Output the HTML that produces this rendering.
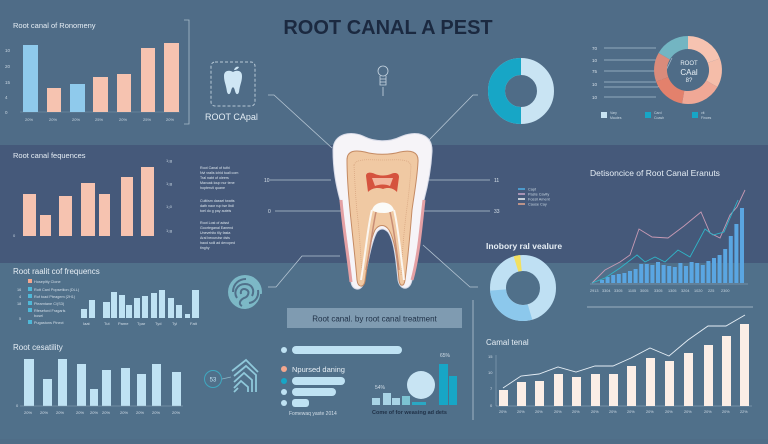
<!DOCTYPE html>
<html><head><meta charset="utf-8"><style>
html,body{margin:0;padding:0;}
body{width:768px;height:439px;overflow:hidden;background:#4f6d87;font-family:"Liberation Sans",sans-serif;}
svg text{font-family:"Liberation Sans",sans-serif;}
</style></head><body>
<svg width="768" height="439" viewBox="0 0 768 439" xmlns="http://www.w3.org/2000/svg">
<rect width="768" height="439" fill="#506e88"/>
<rect y="0" width="768" height="145" fill="#4f6c87"/>
<rect y="145" width="768" height="118" fill="#45597a"/>
<rect y="263" width="768" height="176" fill="#50708a"/>

<text x="388" y="34" text-anchor="middle" font-size="20" font-weight="bold" fill="#1b2940">ROOT CANAL A PEST</text>

<text x="13" y="28" font-size="7.5" fill="#e6eef5">Root canal of Ronomeny</text>
<path d="M184,20 H189 V124 H184" fill="none" stroke="#a9bccb" stroke-width="0.8"/>
<g font-size="4.5" fill="#c9d7e2">
<text x="5" y="52">10</text><text x="5" y="68">20</text><text x="5" y="84">15</text><text x="5" y="99">4</text><text x="5" y="114">0</text>
</g>
<line x1="20" y1="112" x2="180" y2="112" stroke="#7f98ad" stroke-width="0.5"/>
<rect x="23" y="45" width="15" height="67" fill="#8fcaec"/>
<rect x="47" y="88" width="14" height="24" fill="#f6c3b0"/>
<rect x="70" y="84" width="15" height="28" fill="#8fcaec"/>
<rect x="93" y="77" width="15" height="35" fill="#f6c3b0"/>
<rect x="117" y="74" width="14" height="38" fill="#f6c3b0"/>
<rect x="141" y="48" width="14" height="64" fill="#f6c3b0"/>
<rect x="164" y="43" width="15" height="69" fill="#f6c3b0"/>
<g font-size="4" fill="#c9d7e2">
<text x="25" y="121">20%</text><text x="49" y="121">20%</text><text x="72" y="121">20%</text><text x="95" y="121">25%</text><text x="119" y="121">20%</text><text x="143" y="121">25%</text><text x="166" y="121">20%</text>
</g>

<rect x="211" y="62" width="44" height="44" rx="4" fill="none" stroke="#b7c8d6" stroke-width="1" stroke-dasharray="3,2"/>
<path d="M224,76 C224,70 230,70 233,72 C236,70 242,70 242,76 C242,82 240,84 239,92 C238,95 236,95 235,91 C234,86 232,86 231,91 C230,95 228,95 227,92 C226,84 224,82 224,76 Z" fill="#cfe6f4"/>
<path d="M234,70 C235,67 237,66 239,67 C238,69 236,70 234,70Z" fill="#cfe6f4"/>
<text x="205" y="120" font-size="9" fill="#e3edf4">ROOT CApal</text>

<g stroke="#c8d6e2" stroke-width="0.8" fill="none">
<circle cx="383" cy="71" r="5"/>
<path d="M380,76 V85 H386 V76"/><line x1="380" y1="79" x2="386" y2="79"/><line x1="380" y1="82" x2="386" y2="82"/>
<line x1="383" y1="87" x2="383" y2="96"/>
</g>

<g stroke="#b4c4d2" stroke-width="0.8" fill="none">
<polyline points="268,95 274,95 332,148"/>
<polyline points="429,140 473,95 478,95"/>
<line x1="270" y1="180" x2="331" y2="180"/>
<line x1="275" y1="211" x2="342" y2="211"/>
<line x1="428" y1="180" x2="490" y2="180"/>
<line x1="420" y1="211" x2="490" y2="211"/>
<polyline points="268,287 276,287 302,256 340,256"/>
<polyline points="423,245 470,287 478,287"/>
<line x1="473" y1="300" x2="473" y2="420"/>
<line x1="587" y1="307" x2="753" y2="307"/>
</g>
<g font-size="5" fill="#d6e0e9">
<text x="264" y="182">10</text><text x="268" y="213">0</text><text x="494" y="182">11</text><text x="494" y="213">33</text>
</g>

<circle cx="521" cy="91" r="24.5" fill="none" stroke="#c9e4f3" stroke-width="17"/>
<path d="M521,66.5 A24.5,24.5 0 0 0 521,115.5" fill="none" stroke="#17a6c6" stroke-width="17"/>

<g stroke="#a9bfd0" stroke-width="0.7">
<line x1="604" y1="48" x2="656" y2="48"/><line x1="604" y1="60" x2="656" y2="60"/><line x1="604" y1="71" x2="656" y2="71"/><line x1="604" y1="82" x2="656" y2="82"/><line x1="604" y1="97" x2="656" y2="97"/>
<polyline points="604,87 658,87 672,58" fill="none"/>
</g>
<g font-size="4.5" fill="#d6e0e9"><text x="592" y="50">70</text><text x="592" y="62">10</text><text x="592" y="73">75</text><text x="592" y="86">10</text><text x="592" y="99">10</text></g>
<g fill="none" stroke-width="13">
<path d="M688,42.5 A27.5,27.5 0 0 0 664.2,56.25" stroke="#73b5c2"/>
<path d="M664.2,56.25 A27.5,27.5 0 0 0 662.2,79.4" stroke="#da8b7b"/>
<path d="M662.2,79.4 A27.5,27.5 0 0 0 683.2,97.1" stroke="#e3816c"/>
<path d="M683.2,97.1 A27.5,27.5 0 0 0 711.8,83.75" stroke="#f0a896"/>
<path d="M711.8,83.75 A27.5,27.5 0 0 0 713.8,60.6" stroke="#f5bda9"/>
<path d="M713.8,60.6 A27.5,27.5 0 0 0 688,42.5" stroke="#f6c3b1"/>
</g>
<g font-size="6" fill="#e8f0f5" text-anchor="middle"><text x="689" y="65">ROOT</text><text x="689" y="75" font-size="8">CAal</text><text x="689" y="82">8?</text></g>
<rect x="601" y="112" width="6" height="6" fill="#c9e4f3"/><rect x="645" y="112" width="6" height="6" fill="#17a6c6"/><rect x="692" y="112" width="6" height="6" fill="#17a6c6"/>
<g font-size="3.5" fill="#c9d7e2"><text x="610" y="114">Vary</text><text x="610" y="119">Mautes</text><text x="654" y="114">Card</text><text x="654" y="119">Coash</text><text x="701" y="114">vit</text><text x="701" y="119">Finces</text></g>

<text x="13" y="158" font-size="7.5" fill="#e6eef5">Root canal fequences</text>
<rect x="23" y="194" width="13" height="42" fill="#f6c3b0"/>
<rect x="40" y="215" width="11" height="21" fill="#f6c3b0"/>
<rect x="59" y="196" width="13" height="40" fill="#f6c3b0"/>
<rect x="81" y="183" width="14" height="53" fill="#f6c3b0"/>
<rect x="99" y="194" width="11" height="42" fill="#f6c3b0"/>
<rect x="121" y="177" width="12" height="59" fill="#f6c3b0"/>
<rect x="141" y="167" width="13" height="69" fill="#f6c3b0"/>
<g font-size="4" fill="#c9d7e2"><text x="13" y="237">0</text><text x="166" y="162">1&#8322;g</text><text x="166" y="185">1&#8322;g</text><text x="166" y="208">1&#8322;0</text><text x="166" y="232">1&#8322;g</text></g>
<g font-size="3.6" fill="#dbe5ed">
<text x="200" y="169">Root Canal of tuthi</text><text x="200" y="174">Nvi vralis ichid tuall com</text><text x="200" y="179">Tral nabt of oleers</text><text x="200" y="184">Mavuak loup nur tene</text><text x="200" y="189">hopteruti quane</text>
<text x="200" y="202">Cultiism dassel twatts</text><text x="200" y="207">dath naor rup tse Ibdl</text><text x="200" y="212">toel do g pay auteis</text>
<text x="200" y="224">Root Lost of adsst</text><text x="200" y="229">Goorteganal Eanend</text><text x="200" y="234">Unevehito tlly fasta</text><text x="200" y="239">Aral becurutsr dsts</text><text x="200" y="244">haod solil ad devoped</text><text x="200" y="249">tinghy</text>
</g>

<g stroke-width="1.5"><line x1="518" y1="189" x2="525" y2="189" stroke="#4fb0e6"/><line x1="518" y1="194" x2="525" y2="194" stroke="#c8a6c8"/><line x1="518" y1="199" x2="525" y2="199" stroke="#eef2f4"/><line x1="518" y1="204" x2="525" y2="204" stroke="#e4a78e"/></g>
<g font-size="3.8" fill="#c9d7e2"><text x="528" y="190.5">Capt</text><text x="528" y="195.5">Paste Cavity</text><text x="528" y="200.5">Fossil Ament</text><text x="528" y="205.5">Cause Cay</text></g>

<text x="590" y="176" font-size="8.5" fill="#e6eef5">Detisoncice of Root Canal Eranuts</text>
<g fill="#5aa6e2">
<rect x="600" y="280" width="4" height="3"/><rect x="605.6" y="277" width="4" height="6"/><rect x="611.2" y="275" width="4" height="8"/><rect x="616.8" y="274" width="4" height="9"/><rect x="622.4" y="273" width="4" height="10"/><rect x="628" y="271" width="4" height="12"/><rect x="633.6" y="269" width="4" height="14"/><rect x="639.2" y="264" width="4" height="19"/><rect x="644.8" y="264" width="4" height="19"/><rect x="650.4" y="265" width="4" height="18"/><rect x="656" y="262" width="4" height="21"/><rect x="661.6" y="265" width="4" height="18"/><rect x="667.2" y="266" width="4" height="17"/><rect x="672.8" y="267" width="4" height="16"/><rect x="678.4" y="263" width="4" height="20"/><rect x="684" y="266" width="4" height="17"/><rect x="689.6" y="262" width="4" height="21"/><rect x="695.2" y="263" width="4" height="20"/><rect x="700.8" y="265" width="4" height="18"/><rect x="706.4" y="261" width="4" height="22"/><rect x="712" y="258" width="4" height="25"/><rect x="717.6" y="255" width="4" height="28"/><rect x="723.2" y="249" width="4" height="34"/><rect x="728.8" y="236" width="4" height="47"/><rect x="734.4" y="224" width="4" height="59"/><rect x="740" y="208" width="4" height="75"/>
</g>
<polyline points="592,283 605,270 620,262 630,255 639,229 652,237 668,238 684,226 701,212 710,233 720,238 730,215 737,207 745,190" fill="none" stroke="#c79ab4" stroke-width="0.9"/>
<polyline points="592,283 605,278 620,268 637,255 645,262 655,257 665,262 678,250 690,257 705,229 713,235 724,232 730,218 738,200" fill="none" stroke="#2fb6c9" stroke-width="0.9"/>
<line x1="590" y1="284" x2="748" y2="284" stroke="#9ab2c5" stroke-width="0.5"/>
<g font-size="3.8" fill="#c9d7e2"><text x="590" y="292">2913</text><text x="602" y="292">3304</text><text x="614" y="292">3305</text><text x="628" y="292">1105</text><text x="640" y="292">3005</text><text x="654" y="292">3305</text><text x="668" y="292">1305</text><text x="681" y="292">3204</text><text x="694" y="292">1020</text><text x="708" y="292">225</text><text x="721" y="292">2300</text></g>

<text x="486" y="249" font-size="8.5" font-weight="bold" fill="#e6eef5">Inobory ral vealure</text>
<circle cx="523" cy="288" r="25" fill="none" stroke="#bfe0f3" stroke-width="16"/>
<path d="M498,290 A25,25 0 0 0 530,312" fill="none" stroke="#8cc8ec" stroke-width="16"/>
<path d="M516,264 A25,25 0 0 1 521,263" fill="none" stroke="#f2e060" stroke-width="16"/>

<path d="M333,150 C333,133 352,130 365,137 C375,142 390,142 400,137 C415,130 433,133 432,152 C431,170 428,185 424,200 C420,225 418,255 412,280 C410,291 400,291 398,280 C396,260 394,240 388,232 C384,228 380,228 377,232 C372,240 368,262 364,282 C362,292 352,291 351,282 C349,255 345,225 340,200 C336,185 333,170 333,150 Z" fill="#f6f4f8" stroke="#d8dbe8" stroke-width="1"/>
<path d="M341,200 C343,225 348,255 351,282 M424,200 C421,225 419,255 412,280" stroke="#e4a0a4" stroke-width="3" fill="none"/>
<path d="M347,160 C347,150 356,150 365,152 C375,155 390,155 400,152 C410,150 419,151 418,162 C417,180 414,195 412,210 C410,235 408,258 405,280 C404,287 400,287 399,280 C397,258 395,240 389,230 C385,224 379,224 375,230 C370,240 368,260 365,281 C364,288 358,288 357,280 C355,255 352,232 350,210 C348,190 347,175 347,160 Z" fill="#f0c9a3" stroke="#c48a63" stroke-width="1"/>
<path d="M354,165 C356,158 370,160 383,160 C396,160 410,158 411,166 C410,185 408,200 406,215 C403,240 402,260 401,275 M354,165 C355,185 356,205 358,220 C360,240 361,260 362,275" fill="none" stroke="#d9a883" stroke-width="0.8" stroke-dasharray="1,1"/>
<path d="M366,176 C366,172 371,172 375,174 C380,176 386,176 391,174 C395,172 399,173 399,177 L397,192 C393,188 388,187 383,189 C378,187 372,188 368,192 Z" fill="#d5533e"/>
<path d="M372,178 L393,178 L390,186 C386,184 380,184 375,186 Z" fill="#f2b79e"/>
<path d="M372,210 C375,200 391,200 394,210 C390,214 376,214 372,210 Z" fill="#fbfbf8"/>
<path d="M372,210 C368,225 366,250 361,280 M394,210 C398,225 400,250 404,280" fill="none" stroke="#fbf6f0" stroke-width="2"/>
<path d="M376,212 C373,225 371,245 366,270 M390,212 C393,225 396,245 399,270" fill="none" stroke="#c88d75" stroke-width="1.5"/>

<text x="13" y="274" font-size="8" fill="#e6eef5">Root raalit cof frequencs</text>
<rect x="28" y="279" width="4" height="4" fill="#f4a78e"/>
<rect x="28" y="287" width="4" height="4" fill="#4fb8d8"/><rect x="28" y="294" width="4" height="4" fill="#4fb8d8"/><rect x="28" y="301" width="4" height="4" fill="#4fb8d8"/><rect x="28" y="308" width="4" height="4" fill="#4fb8d8"/><rect x="28" y="320" width="4" height="4" fill="#4fb8d8"/>
<g font-size="3.8" fill="#d3dee8"><text x="34" y="283">Hoseplity Clone</text><text x="34" y="291">Rott Canl Popsetiion (DLL)</text><text x="34" y="298">Rof toad Pteagem (2H1)</text><text x="34" y="305">Pleamtane C/(S3)</text><text x="34" y="312">Rfeseford Fragarls</text><text x="34" y="317">bosel</text><text x="34" y="324">Pugastons Pinect</text>
<text x="17" y="291">16</text><text x="19" y="298">4</text><text x="17" y="305">18</text><text x="19" y="320">5</text></g>
<g fill="#bfe2f3">
<rect x="81" y="309" width="6" height="9"/><rect x="89" y="300" width="6" height="18"/><rect x="103" y="302" width="7" height="16"/><rect x="111" y="292" width="6" height="26"/><rect x="119" y="295" width="6" height="23"/><rect x="126" y="305" width="6" height="13"/><rect x="134" y="298" width="6" height="20"/><rect x="142" y="296" width="6" height="22"/><rect x="151" y="293" width="6" height="25"/><rect x="159" y="290" width="6" height="28"/><rect x="168" y="298" width="6" height="20"/><rect x="176" y="305" width="6" height="13"/><rect x="185" y="314" width="5" height="4"/><rect x="192" y="290" width="7" height="28"/>
</g>
<g font-size="4" fill="#d3dee8"><text x="83" y="325">Iaat</text><text x="104" y="325">Tut</text><text x="118" y="325">Pame</text><text x="137" y="325">Tpar</text><text x="155" y="325">Tyd</text><text x="172" y="325">Tyl</text><text x="190" y="325">Fatt</text></g>

<circle cx="245" cy="292" r="17" fill="#7cb8c6"/>
<g fill="none" stroke="#50708a" stroke-width="2">
<path d="M233,292 C233,283 240,279 246,279"/><path d="M237,298 C233,292 237,284 245,284 C252,284 255,290 252,296"/><path d="M241,294 C240,289 244,288 247,290 C250,292 248,297 244,298 C240,300 238,304 242,306"/><path d="M249,303 C256,302 259,296 258,290"/><path d="M246,310 C254,309 261,302 261,294"/>
</g>

<rect x="287" y="308" width="175" height="20" fill="#7f9bb1"/>
<text x="374.5" y="321.5" font-size="8" text-anchor="middle" fill="#1f3046">Root canal. by root canal treatment</text>

<text x="13" y="350" font-size="8" fill="#e6eef5">Root cesatility</text>
<g fill="#bfe2f3">
<rect x="24" y="359" width="10" height="47"/><rect x="43" y="379" width="9" height="27"/><rect x="58" y="359" width="9" height="47"/><rect x="77" y="364" width="9" height="42"/><rect x="90" y="389" width="8" height="17"/><rect x="102" y="370" width="9" height="36"/><rect x="121" y="368" width="9" height="38"/><rect x="137" y="374" width="9" height="32"/><rect x="152" y="364" width="9" height="42"/><rect x="172" y="372" width="9" height="34"/>
</g>
<line x1="20" y1="406" x2="183" y2="406" stroke="#8fa8bc" stroke-width="0.5"/>
<g font-size="4" fill="#d3dee8"><text x="16" y="407">0</text><text x="24" y="414">20%</text><text x="40" y="414">20%</text><text x="56" y="414">20%</text><text x="76" y="414">20%</text><text x="90" y="414">20%</text><text x="102" y="414">20%</text><text x="120" y="414">20%</text><text x="136" y="414">20%</text><text x="152" y="414">20%</text><text x="172" y="414">20%</text></g>

<circle cx="213" cy="379" r="8.5" fill="none" stroke="#3fa8c0" stroke-width="1"/>
<text x="213" y="381.5" font-size="6" text-anchor="middle" fill="#bfe2f3">53</text>
<line x1="222" y1="379" x2="231" y2="377" stroke="#8fb8c8" stroke-width="0.8"/>
<g fill="none" stroke="#8fc8da" stroke-width="1.8">
<path d="M232,371 L246,360 L258,372"/><path d="M234,376 L246,366 L256,375 V392"/><path d="M234,382 L244,373 L252,380 V392"/><path d="M234,388 L241,381 L248,387 V392"/><path d="M234,392 L238,388"/>
</g>

<circle cx="284" cy="350" r="3" fill="#bfe2f3"/><rect x="292" y="346" width="110" height="8" rx="4" fill="#bfe2f3"/>
<circle cx="284" cy="369" r="3" fill="#f4a78e"/><text x="292" y="372" font-size="7.5" fill="#e6eef5">Npursed daning</text>
<circle cx="284" cy="381" r="3" fill="#17a6c6"/><rect x="292" y="377" width="53" height="8" rx="4" fill="#bfe2f3"/>
<circle cx="284" cy="392" r="3" fill="#bfe2f3"/><rect x="292" y="388" width="44" height="8" rx="4" fill="#bfe2f3"/>
<circle cx="284" cy="403" r="3" fill="#bfe2f3"/><rect x="292" y="399" width="17" height="8" rx="3" fill="#bfe2f3"/>
<text x="289" y="415" font-size="5" fill="#d3dee8">Fomewaq yaste 2014</text>

<g fill="#a8d4e6"><rect x="372" y="398" width="8" height="7"/><rect x="383" y="393" width="8" height="12"/><rect x="392" y="398" width="8" height="7"/><rect x="402" y="396" width="8" height="9" fill="#7cc3d2"/><rect x="412" y="402" width="14" height="3" fill="#2aa8c4"/></g>
<circle cx="421" cy="385" r="14" fill="#c8e4f3"/>
<rect x="439" y="364" width="9" height="41" fill="#17a6c6"/><rect x="449" y="376" width="8" height="29" fill="#17a6c6"/>
<text x="375" y="389" font-size="5" fill="#d3dee8">54%</text><text x="440" y="357" font-size="5" fill="#d3dee8">65%</text>
<text x="372" y="414" font-size="5.5" font-weight="bold" fill="#1f3046">Come of for weasing ad dets</text>

<text x="486" y="345" font-size="8" fill="#e6eef5">Camal tenal</text>
<g font-size="4" fill="#d3dee8"><text x="488" y="358">15</text><text x="488" y="374">10</text><text x="490" y="390">7</text><text x="490" y="407">0</text></g>
<line x1="496" y1="355" x2="496" y2="406" stroke="#9ab2c5" stroke-width="0.5"/>
<line x1="496" y1="406" x2="752" y2="406" stroke="#9ab2c5" stroke-width="0.5"/>
<g fill="#fbeee6">
<rect x="499" y="390" width="9" height="16"/><rect x="517" y="382" width="9" height="24"/><rect x="535" y="381" width="9" height="25"/><rect x="554" y="374" width="9" height="32"/><rect x="572" y="377" width="9" height="29"/><rect x="591" y="374" width="9" height="32"/><rect x="609" y="374" width="9" height="32"/><rect x="627" y="366" width="9" height="40"/><rect x="646" y="358" width="9" height="48"/><rect x="665" y="361" width="9" height="45"/><rect x="684" y="353" width="9" height="53"/><rect x="704" y="345" width="9" height="61"/><rect x="722" y="336" width="9" height="70"/><rect x="740" y="324" width="9" height="82"/>
</g>
<polyline points="503,388 521,376 539,374 558,367 576,372 595,366 613,366 631,358 650,348 669,356 688,340 708,326 726,326 745,315" fill="none" stroke="#e6eef5" stroke-width="0.9"/>
<g font-size="3.8" fill="#d3dee8"><text x="499" y="413">20%</text><text x="517" y="413">20%</text><text x="535" y="413">20%</text><text x="554" y="413">20%</text><text x="572" y="413">20%</text><text x="591" y="413">20%</text><text x="609" y="413">20%</text><text x="627" y="413">20%</text><text x="646" y="413">20%</text><text x="665" y="413">20%</text><text x="684" y="413">20%</text><text x="704" y="413">20%</text><text x="722" y="413">20%</text><text x="740" y="413">22%</text></g>
</svg>
</body></html>
